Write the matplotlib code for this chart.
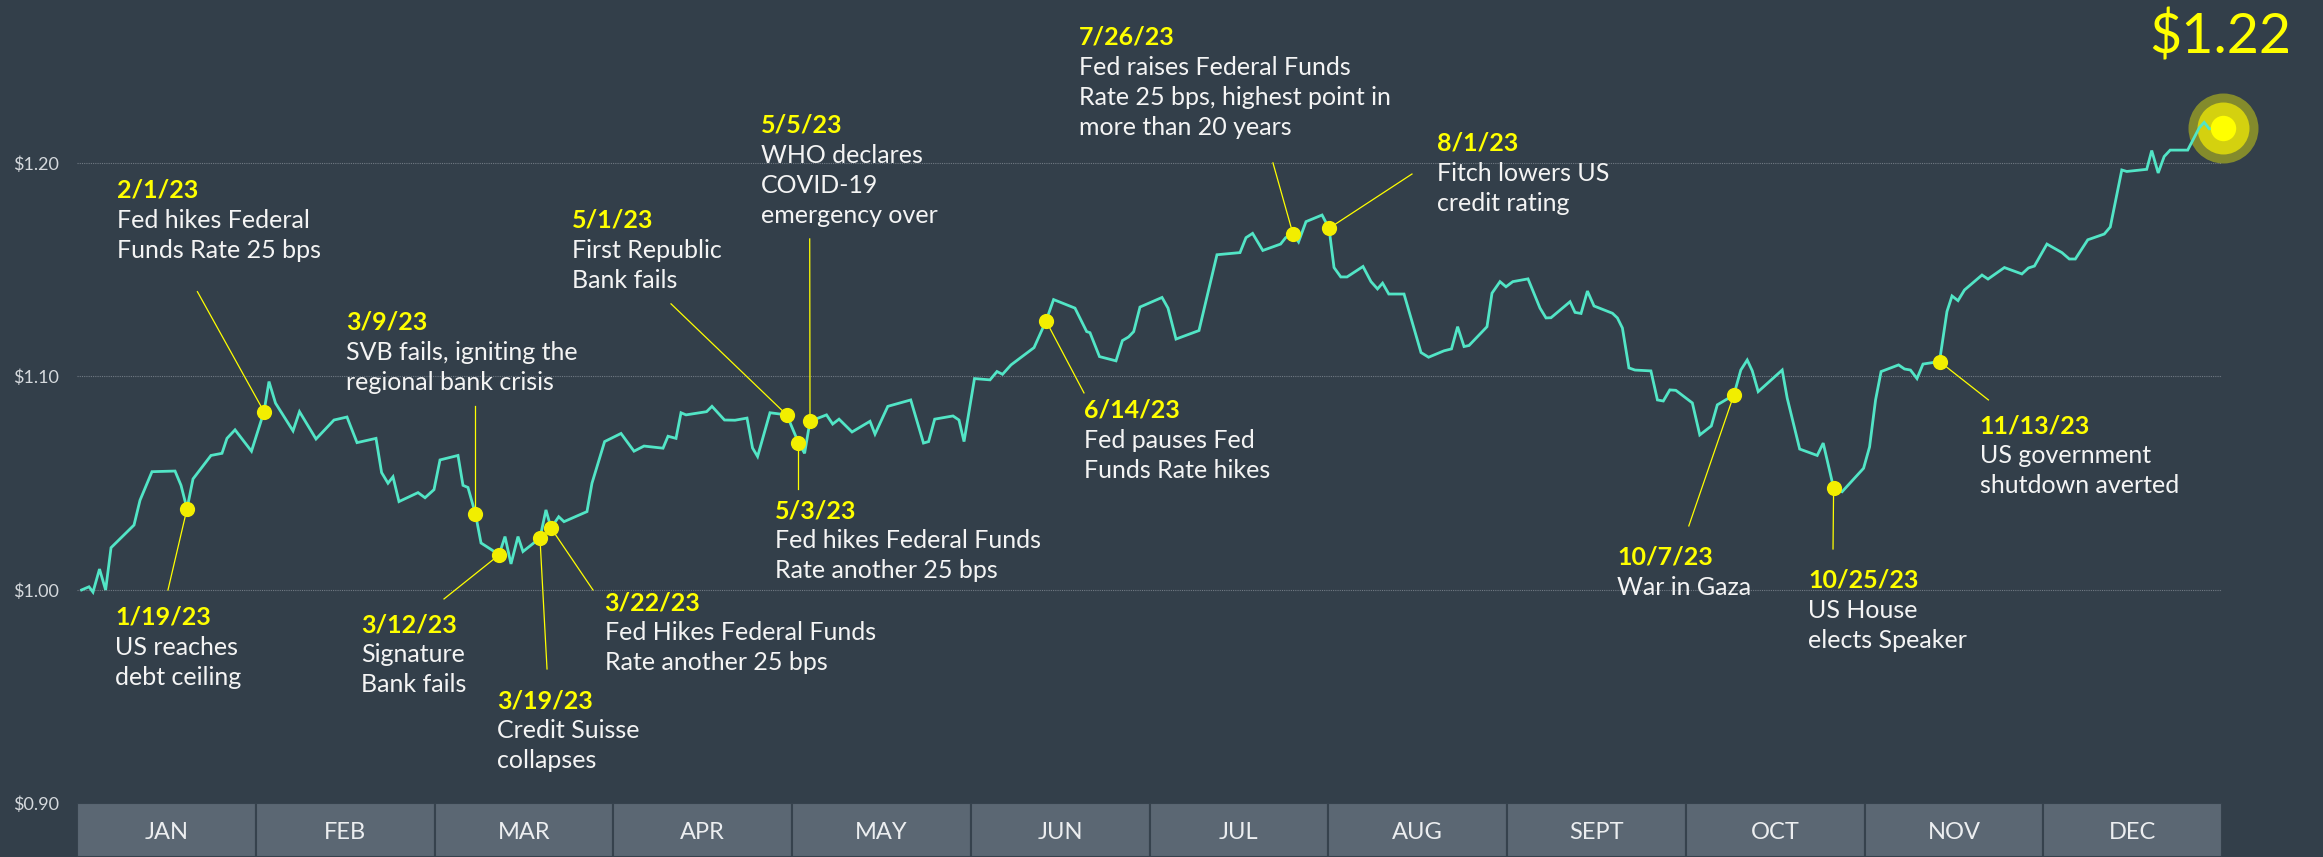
import numpy as np
import matplotlib.pyplot as plt

# value of $1 over 2023 (x = day of year, y = value)
days = [0.78, 2.04, 2.72, 3.83, 4.87, 5.79, 9.70, 10.72, 12.76, 16.68, 17.70, 18.72, 19.74,
        22.80, 24.67, 25.52, 26.89, 29.69, 31.82, 32.67, 33.78, 36.76, 37.86, 40.67, 43.73,
        45.94, 47.65, 50.88, 51.83, 52.92, 53.77, 54.79, 58.03, 59.22, 60.75, 61.77, 64.83,
        65.68, 66.53, 67.81, 68.75, 70.62, 71.81, 72.83, 73.85, 75.04, 75.89, 78.78, 79.80,
        80.66, 81.97, 82.87, 86.78, 87.63, 89.78, 92.57, 94.78, 96.48, 99.72, 100.57, 101.93,
        102.78, 103.63, 107.13, 108.05, 110.18, 111.97, 114.01, 114.95, 115.81, 117.92,
        120.77, 122.77, 123.81, 124.73, 127.54, 128.59, 129.67, 131.88, 134.94, 135.79,
        137.97, 141.87, 144.04, 144.91, 145.95, 149.06, 150.08, 150.94, 152.72, 155.36,
        156.55, 157.49, 158.93, 162.85, 164.89, 166.18, 169.82, 171.81, 172.37, 173.99,
        176.80, 177.89, 178.94, 179.81, 180.88, 184.63, 185.65, 187.01, 190.92, 193.98,
        197.90, 198.92, 200.04, 201.78, 204.81, 205.67, 206.92, 207.86, 209.13, 211.86,
        213.05, 213.90, 215.05, 216.11, 218.83, 220.19, 221.30, 222.16, 223.22, 225.81,
        228.70, 229.99, 232.61, 233.89, 234.93, 236.02, 236.87, 239.93, 240.78, 242.14,
        243.16, 244.32, 246.91, 248.95, 249.97, 250.82, 254.06, 254.91, 255.93, 257.02,
        258.14, 261.27, 262.12, 262.97, 264.08, 265.10, 267.82, 268.93, 269.93, 271.04,
        272.06, 274.87, 276.14, 278.10, 279.12, 281.93, 283.12, 284.21, 285.06, 286.08,
        290.16, 291.01, 293.14, 296.12, 297.14, 298.91, 300.35, 304.01, 305.03, 306.05,
        306.99, 309.97, 310.97, 311.99, 313.10, 314.12, 316.93, 318.20, 319.06, 320.08,
        321.18, 324.16, 325.18, 327.97, 330.95, 332.06, 333.08, 335.21, 337.76, 339.02,
        340.04, 342.16, 344.97, 345.99, 347.95, 348.80, 352.19, 353.04, 354.14, 355.16,
        356.18, 359.16, 361.12, 361.97, 362.82, 365.1]
values = [1.000, 1.0015, 0.999, 1.0098, 1.000, 1.0198, 1.0304, 1.042, 1.0554, 1.0557, 1.049,
          1.038, 1.052, 1.063, 1.064, 1.071, 1.075, 1.065, 1.0835, 1.0976, 1.0875, 1.0745,
          1.0835, 1.0707, 1.0796, 1.081, 1.069, 1.071, 1.055, 1.050, 1.053, 1.0414, 1.0456,
          1.0432, 1.047, 1.0609, 1.063, 1.049, 1.048, 1.0355, 1.022, 1.0187, 1.0164, 1.025,
          1.0122, 1.025, 1.018, 1.0243, 1.0375, 1.029, 1.0343, 1.032, 1.0367, 1.050, 1.0695,
          1.0733, 1.065, 1.0674, 1.0664, 1.072, 1.071, 1.083, 1.082, 1.0835, 1.086, 1.0796,
          1.0795, 1.0805, 1.0665, 1.0625, 1.083, 1.082, 1.069, 1.064, 1.079, 1.082, 1.0777,
          1.080, 1.074, 1.079, 1.073, 1.086, 1.089, 1.0688, 1.0695, 1.080, 1.0815, 1.0796,
          1.0695, 1.099, 1.0984, 1.1023, 1.101, 1.1054, 1.1135, 1.126, 1.136, 1.132, 1.121,
          1.1205, 1.1093, 1.1073, 1.1168, 1.1185, 1.121, 1.1325, 1.137, 1.132, 1.1175, 1.1215,
          1.157, 1.158, 1.165, 1.167, 1.159, 1.162, 1.165, 1.1667, 1.163, 1.1725, 1.1756,
          1.1694, 1.151, 1.1466, 1.1466, 1.1515, 1.1444, 1.141, 1.1437, 1.1386, 1.1386,
          1.1112, 1.109, 1.112, 1.1129, 1.1233, 1.114, 1.1145, 1.1233, 1.139, 1.1444, 1.142,
          1.1444, 1.1457, 1.132, 1.1274, 1.1275, 1.135, 1.130, 1.1295, 1.140, 1.133, 1.1296,
          1.1274, 1.1227, 1.104, 1.103, 1.1026, 1.089, 1.0885, 1.0937, 1.0935, 1.0876, 1.0726,
          1.0768, 1.0867, 1.0913, 1.103, 1.1077, 1.1027, 1.0929, 1.103, 1.0899, 1.066, 1.063,
          1.0688, 1.0478, 1.046, 1.057, 1.067, 1.089, 1.1023, 1.1054, 1.1035, 1.103, 1.099,
          1.1058, 1.107, 1.1304, 1.1377, 1.1355, 1.1405, 1.1475, 1.1456, 1.151, 1.148, 1.1508,
          1.1517, 1.162, 1.158, 1.155, 1.155, 1.164, 1.1667, 1.170, 1.1967, 1.196, 1.197,
          1.2058, 1.1953, 1.2030, 1.206, 1.206, 1.2164, 1.219, 1.216, 1.2164]

months = ['JAN', 'FEB', 'MAR', 'APR', 'MAY', 'JUN', 'JUL', 'AUG', 'SEPT', 'OCT', 'NOV', 'DEC']
yticks = [0.90, 1.00, 1.10, 1.20]
final_label = '$1.22'

# events
event_dates = ['1/19/23', '2/1/23', '3/9/23', '3/12/23', '3/19/23', '3/22/23', '5/1/23', '5/3/23',
               '5/5/23', '6/14/23', '7/26/23', '8/1/23', '10/7/23', '10/25/23', '11/13/23']
event_days = [18.72, 31.82, 67.81, 71.81, 78.78, 80.66, 120.77, 122.77, 124.73, 164.89,
              206.92, 213.05, 281.93, 298.91, 316.93]
event_values = [1.038, 1.0835, 1.0355, 1.0164, 1.0243, 1.029, 1.082, 1.069, 1.079, 1.126,
                1.1667, 1.1694, 1.0913, 1.0478, 1.107]
event_texts = [['US reaches', 'debt ceiling'],
               ['Fed hikes Federal', 'Funds Rate 25 bps'],
               ['SVB fails, igniting the', 'regional bank crisis'],
               ['Signature', 'Bank fails'],
               ['Credit Suisse', 'collapses'],
               ['Fed Hikes Federal Funds', 'Rate another 25 bps'],
               ['First Republic', 'Bank fails'],
               ['Fed hikes Federal Funds', 'Rate another 25 bps'],
               ['WHO declares', 'COVID-19', 'emergency over'],
               ['Fed pauses Fed', 'Funds Rate hikes'],
               ['Fed raises Federal Funds', 'Rate 25 bps, highest point in', 'more than 20 years'],
               ['Fitch lowers US', 'credit rating'],
               ['War in Gaza'],
               ['US House', 'elects Speaker'],
               ['US government', 'shutdown averted']]

# layout: label anchor (left, date baseline) and leader start, in data units
label_pos = [(6.47, 0.9836), (6.81, 1.1836), (45.77, 1.1218), (48.33, 0.9803), (71.54, 0.9447),
             (89.78, 0.9906), (84.30, 1.1697), (118.69, 1.0337), (116.39, 1.2142),
             (171.35, 1.0806), (170.50, 1.2553), (231.41, 1.2058), (262.12, 1.0117),
             (294.55, 1.0011), (323.74, 1.0735)]
leader_start = [(15.48, 1.000), (20.49, 1.1397), (67.81, 1.0862), (62.45, 0.9958), (79.98, 0.9630),
                (87.80, 1.000), (101.08, 1.1340), (122.77, 1.0473), (124.68, 1.1644),
                (171.35, 1.0923), (203.51, 1.2000), (227.16, 1.1948), (274.27, 1.0300),
                (298.81, 1.0192), (325.25, 1.0890)]

BG = '#333f4a'
TEAL = '#52e5c6'
YELLOW = '#ffff00'
DOT = '#f2ee00'
LINE_STEP = 0.01405

plt.rcParams['font.family'] = ['Lato', 'DejaVu Sans']

W, H = 2323, 857
fig = plt.figure(figsize=(W / 100, H / 100), dpi=100, facecolor=BG)
ax = fig.add_axes([77 / W, 53.5 / H, 2145 / W, 803.5 / H])
ax.set_facecolor(BG)
ax.set_xlim(0, 365)
ax.set_ylim(0.90, 1.2763)
for s in ax.spines.values():
    s.set_visible(False)
ax.set_xticks([])
ax.set_yticks(yticks)
ax.set_yticklabels(['\\$%.2f' % v for v in yticks], color='#d5d9dd', fontsize=13)
ax.tick_params(axis='y', length=0, pad=13)
for v in yticks[1:]:
    ax.axhline(v, color='#717a84', lw=0.8, ls=(0, (1, 1)), zorder=1)

# glow at last point
ax.scatter([days[-1]], [values[-1]], s=2540, color=YELLOW, alpha=0.4, lw=0, zorder=2, clip_on=False)
ax.scatter([days[-1]], [values[-1]], s=1400, color='#d4d10f', lw=0, zorder=2, clip_on=False)

ax.plot(days, values, color=TEAL, lw=2.0, zorder=3, solid_joinstyle='miter', clip_on=False)
ax.scatter([days[-1]], [values[-1]], s=335, color=YELLOW, lw=0, zorder=4, clip_on=False)

for i in range(len(event_dates)):
    sx, sy = leader_start[i]
    ax.plot([sx, event_days[i]], [sy, event_values[i]], color=YELLOW, lw=0.9, zorder=3)
ax.scatter(event_days, event_values, s=120, color=DOT, lw=0, zorder=5)

for i in range(len(event_dates)):
    lx, ly = label_pos[i]
    ax.text(lx, ly, event_dates[i], color=YELLOW, fontsize=18, fontweight='bold',
            va='baseline', ha='left', zorder=6, clip_on=False)
    for j, line in enumerate(event_texts[i]):
        ax.text(lx, ly - (j + 1) * LINE_STEP, line, color='#f4f4f4', fontsize=18,
                va='baseline', ha='left', zorder=6, clip_on=False)

fig.text(2291 / W, 1 - 53 / H, final_label.replace('$', '\\$'), color=YELLOW, fontsize=40,
         ha='right', va='baseline')

# month bar
ax2 = fig.add_axes([77 / W, 0, 2145 / W, 54 / H])
ax2.bar(np.arange(len(months)), np.ones(len(months)), width=1.0, align='edge',
        color='#5b6773', edgecolor='#36424d', linewidth=1.5)
ax2.set_xlim(0, len(months))
ax2.set_ylim(0, 1)
ax2.axis('off')
for i, m in enumerate(months):
    ax2.text(i + 0.5, 0.46, m, color='#eceef0', fontsize=17, ha='center', va='center')

fig.savefig('out.png', dpi=100, facecolor=BG)
